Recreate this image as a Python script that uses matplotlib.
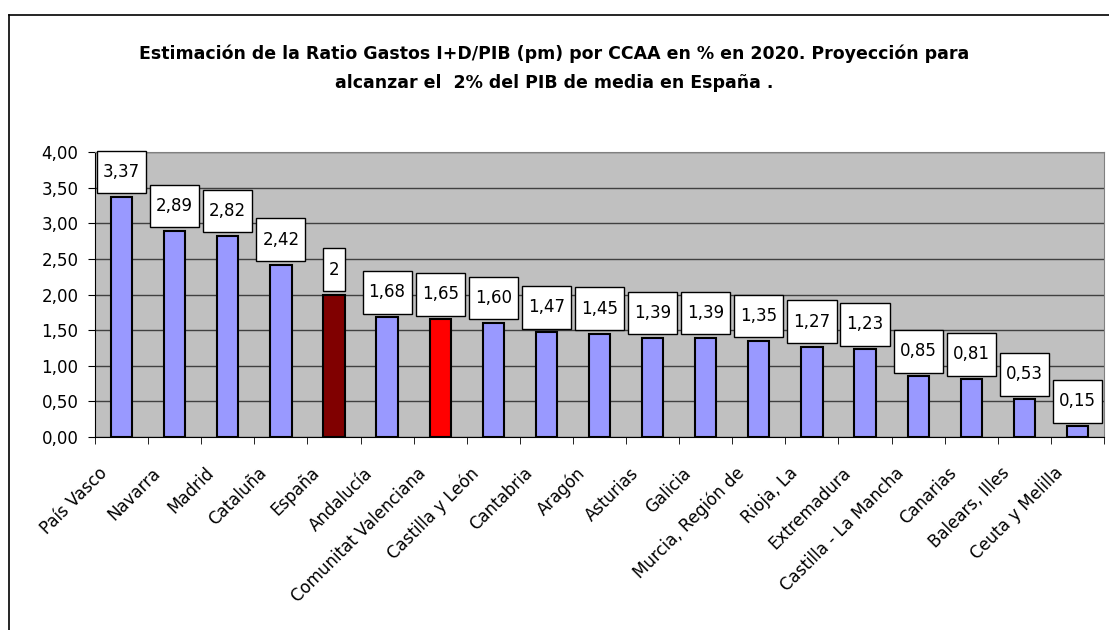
import matplotlib.pyplot as plt
import numpy as np
from matplotlib.path import Path
from matplotlib.lines import Line2D

# datos
regiones = ['País Vasco', 'Navarra', 'Madrid', 'Cataluña', 'España', 'Andalucía',
            'Comunitat Valenciana', 'Castilla y León', 'Cantabria', 'Aragón', 'Asturias',
            'Galicia', 'Murcia, Región de', 'Rioja, La', 'Extremadura',
            'Castilla - La Mancha', 'Canarias', 'Balears, Illes', 'Ceuta y Melilla']
valores = [3.37, 2.89, 2.82, 2.42, 2.00, 1.68, 1.65, 1.60, 1.47, 1.45, 1.39,
           1.39, 1.35, 1.27, 1.23, 0.85, 0.81, 0.53, 0.15]
etiquetas = ['3,37', '2,89', '2,82', '2,42', '2', '1,68', '1,65', '1,60', '1,47', '1,45',
             '1,39', '1,39', '1,35', '1,27', '1,23', '0,85', '0,81', '0,53', '0,15']
yticks = [0, 0.5, 1.0, 1.5, 2.0, 2.5, 3.0, 3.5, 4.0]

# colores especiales
colores = ['#9999ff'] * len(regiones)
colores[regiones.index('España')] = '#800000'
colores[regiones.index('Comunitat Valenciana')] = '#ff0000'


# caja de la etiqueta (más alta que ancha, como en Excel)
def caja(x0, y0, width, height, mutation_size):
    px = 0.36 * mutation_size
    py = 0.74 * mutation_size
    verts = [(x0 - px, y0 - py), (x0 + width + px, y0 - py),
             (x0 + width + px, y0 + height + py), (x0 - px, y0 + height + py),
             (x0 - px, y0 - py)]
    codes = [Path.MOVETO, Path.LINETO, Path.LINETO, Path.LINETO, Path.CLOSEPOLY]
    return Path(verts, codes)


fig = plt.figure(figsize=(11.09, 6.30), dpi=100)
ax = fig.add_axes([0.0857, 0.3063, 0.9098, 0.4524])
ax.set_facecolor('#c0c0c0')

x = np.arange(len(regiones))
ax.bar(x, valores, width=0.4, color=colores, edgecolor='black', linewidth=1.5, zorder=3)

# etiquetas de datos
for xi, v, lab in zip(x, valores, etiquetas):
    ax.annotate(lab, (xi, v), xytext=(0, 16), textcoords='offset pixels',
                ha='center', va='bottom', fontsize=12, zorder=5,
                bbox=dict(boxstyle=caja, fc='white', ec='black', lw=1))

ax.set_xlim(-0.5, len(regiones) - 0.5)
ax.set_ylim(0, 4)
ax.set_yticks(yticks)
ax.set_yticklabels([f'{t:.2f}'.replace('.', ',') for t in yticks], fontsize=12)
ax.yaxis.grid(True, color='#404040', linewidth=1, zorder=0)
ax.set_axisbelow(True)

# rótulos de categoría algo desplazados a la izquierda, como en Excel
ax.set_xticks(x - 0.32)
ax.set_xticklabels(regiones, fontsize=12, rotation=45, ha='right', va='center',
                   rotation_mode='anchor')
ax.set_xticks(np.arange(len(regiones) + 1) - 0.5, minor=True)
ax.tick_params(axis='x', which='major', length=0, pad=24)
ax.tick_params(axis='x', which='minor', length=5, direction='out')
ax.tick_params(axis='y', length=5, direction='out', pad=7)

for s in ['top', 'right']:
    ax.spines[s].set_color('#808080')
for s in ['left', 'bottom']:
    ax.spines[s].set_color('black')

# título
fig.text(0.5, 0.892, 'Estimación de la Ratio Gastos I+D/PIB (pm) por CCAA en % en 2020. Proyección para\n'
         'alcanzar el  2% del PIB de media en España .', ha='center', va='center',
         fontsize=12.5, fontweight='bold', linespacing=1.75)

# marco del gráfico
fig.add_artist(Line2D([0.0081, 1.0], [0.976, 0.976], color='black', lw=1.2))
fig.add_artist(Line2D([0.0081, 0.0081], [0.0, 0.976], color='black', lw=1.2))

fig.savefig('out.png', dpi=100)
